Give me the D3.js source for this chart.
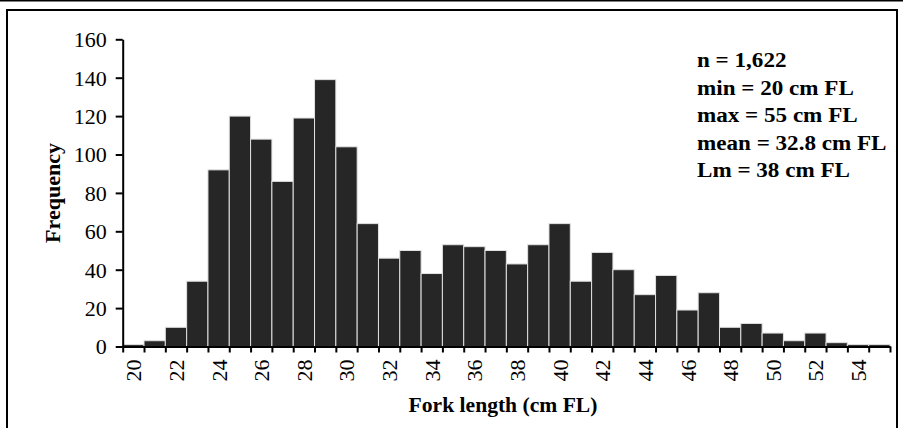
<!DOCTYPE html>
<html>
<head>
<meta charset="utf-8">
<script src="https://cdn.jsdelivr.net/npm/d3@7"></script>
<style>
  html, body { margin: 0; padding: 0; background: #fff; }
  svg { display: block; }
  text { font-family: "Liberation Serif", "Times New Roman", serif; fill: #000; }
</style>
</head>
<body>
<div id="chart"></div>
<script>
// Fork length bins (cm FL), one bar per 1 cm
const lengths = [20, 21, 22, 23, 24, 25, 26, 27, 28, 29, 30, 31, 32, 33, 34, 35, 36, 37,
  38, 39, 40, 41, 42, 43, 44, 45, 46, 47, 48, 49, 50, 51, 52, 53, 54, 55];
const counts = [1, 3, 10, 34, 92, 120, 108, 86, 119, 139, 104, 64, 46, 50, 38, 53, 52, 50,
  43, 53, 64, 34, 49, 40, 27, 37, 19, 28, 10, 12, 7, 3, 7, 2, 1, 1];
const xLabels = [20, 22, 24, 26, 28, 30, 32, 34, 36, 38, 40, 42, 44, 46, 48, 50, 52, 54];
const yTicks = [0, 20, 40, 60, 80, 100, 120, 140, 160];
const statLines = ['n = 1,622', 'min = 20 cm FL', 'max = 55 cm FL', 'mean = 32.8 cm FL', 'Lm = 38 cm FL'];

const W = 903, H = 428;
const plot = { left: 122.7, right: 890, top: 39.3, bottom: 346.5 };

const svg = d3.select('#chart')
  .append('svg')
  .attr('width', W)
  .attr('height', H);

// outer frame lines
svg.append('line')
  .attr('x1', 0).attr('x2', W).attr('y1', 0.8).attr('y2', 0.8)
  .attr('stroke', '#000').attr('stroke-width', 1.5);
svg.append('rect')
  .attr('x', 7).attr('y', 10).attr('width', 890).attr('height', 440)
  .attr('fill', 'none').attr('stroke', '#000').attr('stroke-width', 2);

const x = d3.scaleLinear()
  .domain([20, 56])
  .range([plot.left, plot.right]);

const y = d3.scaleLinear()
  .domain([0, 160])
  .range([plot.bottom, plot.top]);

// bars
svg.append('g')
  .selectAll('rect')
  .data(lengths)
  .enter()
  .append('rect')
  .attr('x', d => x(d))
  .attr('width', d => x(d + 1) - x(d))
  .attr('y', (d, i) => y(counts[i]))
  .attr('height', (d, i) => y(0) - y(counts[i]))
  .attr('fill', '#262626')
  .attr('stroke', '#e0e0e0')
  .attr('stroke-width', 1);

// y axis
const yAxis = svg.append('g')
  .attr('transform', `translate(${plot.left},0)`)
  .call(d3.axisLeft(y).tickValues(yTicks).tickSize(7).tickPadding(9).tickSizeOuter(0));
yAxis.select('.domain').attr('stroke-width', 2);
yAxis.selectAll('.tick line').attr('stroke-width', 2);
yAxis.selectAll('.tick text')
  .style('font-family', '"Liberation Serif", serif')
  .style('font-size', '22px')
  .attr('dy', '0.34em');

// x axis: ticks at bin edges, labels at bin centres
const xAxis = svg.append('g')
  .attr('transform', `translate(0,${plot.bottom})`)
  .call(d3.axisBottom(x).tickValues(d3.range(20, 57)).tickSize(6).tickFormat('').tickSizeOuter(0));
xAxis.select('.domain').attr('stroke-width', 2);
xAxis.selectAll('.tick line').attr('stroke-width', 2);

svg.append('g')
  .selectAll('text')
  .data(xLabels)
  .enter()
  .append('text')
  .attr('transform', d => `translate(${x(d + 0.5) + 8},${plot.bottom + 13}) rotate(-90)`)
  .attr('text-anchor', 'end')
  .style('font-size', '22px')
  .text(d => d);

// axis titles
svg.append('text')
  .attr('transform', 'translate(503,412) scale(1.08,1)')
  .attr('text-anchor', 'middle')
  .style('font-size', '20px')
  .style('font-weight', 'bold')
  .text('Fork length (cm FL)');

svg.append('text')
  .attr('transform', 'translate(60,193) rotate(-90)')
  .attr('text-anchor', 'middle')
  .style('font-size', '22px')
  .style('font-weight', 'bold')
  .text('Frequency');

// summary statistics
svg.append('g')
  .selectAll('text')
  .data(statLines)
  .enter()
  .append('text')
  .attr('transform', (d, i) => `translate(697,${67 + i * 27.6}) scale(1.1,1)`)
  .style('font-size', '21px')
  .style('font-weight', 'bold')
  .text(d => d);
</script>
</body>
</html>
